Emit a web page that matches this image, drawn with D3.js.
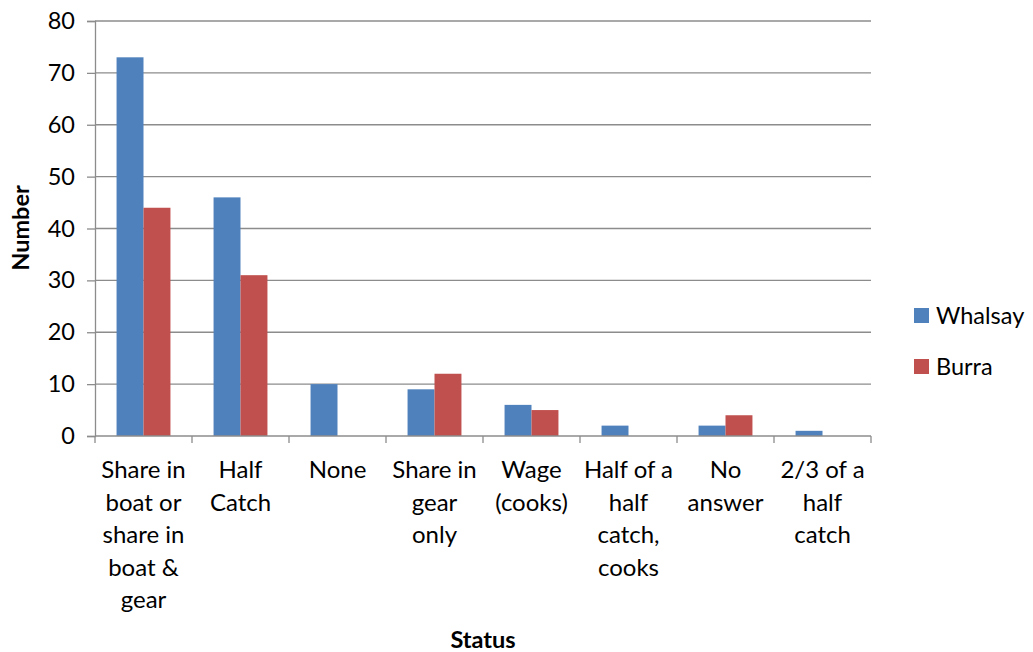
<!DOCTYPE html>
<html><head><meta charset="utf-8">
<script src="https://cdn.jsdelivr.net/npm/d3@7"></script>
<style>body{margin:0;background:#fff;} text{font-family:Lato,"Open Sans",sans-serif;}</style>
</head><body>
<svg id="c" width="1033" height="652"></svg>
<script>
const categories = [
  ["Share in","boat or","share in","boat &","gear"],
  ["Half","Catch"],
  ["None"],
  ["Share in","gear","only"],
  ["Wage","(cooks)"],
  ["Half of a","half","catch,","cooks"],
  ["No","answer"],
  ["2/3 of a","half","catch"]
];
const seriesNames = ["Whalsay","Burra"];
const whalsay = [73,46,10,9,6,2,2,1];
const burra = [44,31,0,12,5,0,4,0];
const yTicks = [0,10,20,30,40,50,60,70,80];
const colors = ["#4F81BD","#C0504D"];

const svg = d3.select("#c");
const L=95,R=871,T=21,B=436;
const keys = categories.map((c,i)=>i);
const x = d3.scaleBand().domain(keys).range([L,R]).paddingInner(0).paddingOuter(0);
const x1 = d3.scaleBand().domain([0,1]).range([0,x.bandwidth()]).paddingOuter(0.8).paddingInner(0);
const y = d3.scaleLinear().domain([0,80]).range([B,T]);

// gridlines
svg.append("g").selectAll("line").data(yTicks.filter(d=>d>0)).join("line")
  .attr("x1",L).attr("x2",R).attr("y1",d=>y(d)).attr("y2",d=>y(d))
  .attr("stroke","#8c8c8c").attr("stroke-width",1.3);

// bars
const data = [whalsay,burra];
data.forEach((arr,s)=>{
  svg.append("g").selectAll("rect").data(arr).join("rect")
    .attr("x",(d,i)=>x(i)+x1(s)).attr("width",x1.bandwidth())
    .attr("y",d=>y(d)).attr("height",d=>B-y(d)).attr("fill",colors[s]);
});

// y axis
const ya = svg.append("g").attr("transform",`translate(${L},0)`)
  .call(d3.axisLeft(y).tickValues(yTicks).tickSize(8).tickPadding(12));
ya.select(".domain").attr("stroke","#8c8c8c").attr("stroke-width",1.3);
ya.selectAll(".tick line").attr("stroke","#8c8c8c").attr("stroke-width",1.3);
ya.selectAll(".tick text").attr("font-size",23.5).attr("font-family","Lato,'Open Sans',sans-serif").attr("fill","#000");

// x axis line and ticks
svg.append("line").attr("x1",L).attr("x2",R).attr("y1",B).attr("y2",B).attr("stroke","#8c8c8c").attr("stroke-width",1.3);
svg.append("g").selectAll("line").data(d3.range(keys.length+1)).join("line")
  .attr("x1",d=>L+d*x.bandwidth()).attr("x2",d=>L+d*x.bandwidth())
  .attr("y1",B).attr("y2",B+7).attr("stroke","#8c8c8c").attr("stroke-width",1.3);

// category labels
categories.forEach((lines,i)=>{
  const t = svg.append("text").attr("text-anchor","middle").attr("font-size",24).attr("fill","#000");
  lines.forEach((ln,j)=>{
    t.append("tspan").attr("x",x(i)+x.bandwidth()/2).attr("y",478+j*32.5).text(ln);
  });
});

// axis titles
svg.append("text").attr("x",483).attr("y",648).attr("text-anchor","middle")
  .attr("font-size",23.5).attr("font-weight","bold").text("Status");
svg.append("text").attr("transform","translate(29,228) rotate(-90)").attr("text-anchor","middle")
  .attr("font-size",23.5).attr("font-weight","bold").text("Number");

// legend
seriesNames.forEach((n,i)=>{
  const yy = 308 + i*51;
  svg.append("rect").attr("x",914).attr("y",yy).attr("width",15).attr("height",15).attr("fill",colors[i]);
  svg.append("text").attr("x",936).attr("y",yy+16).attr("font-size",23.5).text(n);
});
</script>
</body></html>
